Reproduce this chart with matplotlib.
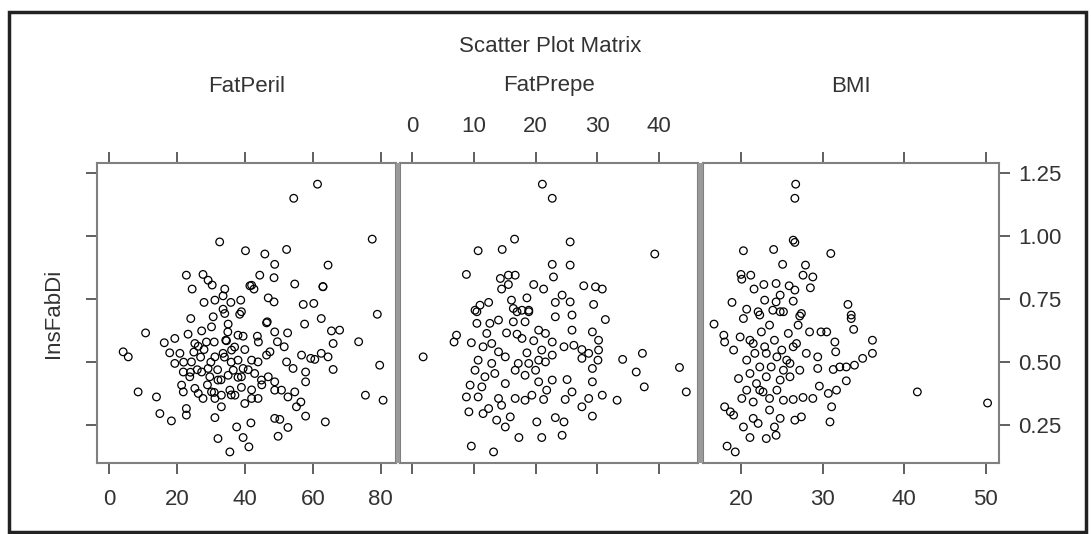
import matplotlib.pyplot as plt
from matplotlib.patches import Rectangle

# values (InsFabDi against each variable)
fatperi_x = [61.4, 54.4, 32.6, 40.2, 45.9, 52.3, 77.5, 48.8, 64.5, 22.8, 27.7, 29.2, 30.4, 44.4, 48.6,
             24.5, 34.1, 41.5, 42.7, 54.7, 63.0, 28.0, 31.2, 33.6, 35.9, 38.8, 33.6, 39.0, 46.9, 48.6,
             57.2, 60.3, 79.0, 24.1, 30.7, 34.1, 35.1, 38.5, 46.4, 57.6, 62.5, 10.8, 16.3, 19.4, 23.3,
             27.3, 30.2, 48.8, 52.6, 65.5, 67.9, 66.0, 73.5, 4.2, 5.7, 25.3, 26.3, 28.7, 34.6, 38.0,
             39.5, 43.7, 49.6, 51.6, 20.9, 17.9, 19.4, 24.3, 29.2, 31.2, 33.6, 36.1, 38.0, 39.5, 42.0,
             43.9, 46.4, 47.4, 52.3, 54.2, 56.7, 59.4, 60.6, 62.5, 64.5, 66.0, 57.9, 57.9, 79.7, 21.9,
             23.8, 27.3, 29.7, 32.1, 35.1, 36.6, 39.0, 42.9, 44.9, 46.9, 48.8, 21.4, 21.9, 25.3, 26.3,
             27.7, 30.2, 31.2, 33.1, 35.6, 37.1, 40.0, 42.0, 43.9, 48.8, 50.8, 52.7, 54.7, 56.5, 55.2,
             8.6, 14.0, 15.0, 18.4, 22.8, 22.8, 33.1, 31.2, 41.8, 37.6, 39.5, 41.2, 35.6, 32.1, 48.8,
             50.3, 52.7, 49.8, 57.9, 63.7, 75.5, 80.7, 34.4, 46.6, 42.0, 63.0, 28.0, 30.0, 32.0, 34.0,
             36.0, 38.0, 26.0, 29.0, 33.0, 31.0, 35.0, 37.0, 40.0, 27.0, 24.0, 22.0, 41.0, 44.0, 31.0,
             36.0, 39.0, 25.0, 42.0, 45.0]
fatperi_y = [1.206, 1.15, 0.977, 0.942, 0.929, 0.947, 0.988, 0.888, 0.885, 0.845, 0.848, 0.825, 0.806, 0.845, 0.835,
             0.79, 0.79, 0.803, 0.79, 0.81, 0.799, 0.737, 0.746, 0.763, 0.737, 0.746, 0.71, 0.70, 0.755, 0.739,
             0.729, 0.733, 0.69, 0.673, 0.68, 0.693, 0.651, 0.69, 0.656, 0.651, 0.673, 0.616, 0.577, 0.594, 0.611,
             0.624, 0.64, 0.62, 0.616, 0.624, 0.627, 0.574, 0.581, 0.541, 0.521, 0.574, 0.563, 0.58, 0.585, 0.607,
             0.603, 0.603, 0.581, 0.561, 0.535, 0.537, 0.495, 0.501, 0.475, 0.521, 0.535, 0.548, 0.508, 0.475, 0.508,
             0.501, 0.528, 0.541, 0.501, 0.475, 0.528, 0.515, 0.511, 0.535, 0.521, 0.471, 0.461, 0.422, 0.488, 0.461,
             0.442, 0.461, 0.442, 0.429, 0.448, 0.468, 0.442, 0.455, 0.429, 0.442, 0.422, 0.409, 0.382, 0.396, 0.376,
             0.356, 0.382, 0.356, 0.369, 0.389, 0.369, 0.336, 0.356, 0.356, 0.389, 0.389, 0.362, 0.382, 0.342, 0.323,
             0.382, 0.362, 0.296, 0.267, 0.316, 0.29, 0.323, 0.28, 0.259, 0.243, 0.201, 0.164, 0.144, 0.197, 0.277,
             0.273, 0.241, 0.206, 0.286, 0.263, 0.369, 0.349, 0.587, 0.66, 0.805, 0.80, 0.55, 0.50, 0.47, 0.52,
             0.50, 0.44, 0.47, 0.41, 0.43, 0.58, 0.62, 0.56, 0.55, 0.52, 0.46, 0.50, 0.47, 0.58, 0.38,
             0.37, 0.40, 0.54, 0.39, 0.41]

fatprepe_x = [21.1, 22.7, 16.6, 10.7, 14.6, 25.6, 39.3, 22.7, 25.6, 8.8, 14.3, 15.6, 16.7, 15.6, 14.5,
              19.7, 21.3, 22.9, 27.8, 29.7, 30.8, 24.3, 23.2, 25.6, 29.4, 18.6, 16.1, 12.4, 11.0, 10.2,
              16.4, 17.8, 18.9, 10.5, 17.0, 18.9, 23.2, 25.9, 31.3, 10.5, 12.6, 14.0, 16.4, 18.3, 7.2,
              6.8, 9.6, 12.1, 15.3, 17.0, 20.5, 21.6, 25.9, 29.2, 30.2, 22.7, 19.7, 17.8, 12.9, 11.5,
              1.8, 14.0, 15.1, 18.6, 21.0, 22.7, 24.6, 26.2, 27.5, 28.6, 30.2, 30.1, 27.5, 34.1, 37.3,
              43.3, 36.3, 29.2, 25.1, 29.2, 37.6, 44.4, 30.8, 33.2, 28.6, 27.5, 25.9, 24.8, 29.2, 23.2,
              24.6, 20.2, 24.3, 21.0, 17.3, 15.1, 15.9, 13.7, 12.4, 9.2, 11.5, 9.6, 13.2, 8.8, 10.7,
              14.0, 14.5, 16.7, 18.3, 19.4, 21.3, 22.7, 21.8, 20.5, 18.3, 16.7, 17.2, 18.9, 20.0, 10.2,
              11.8, 13.4, 15.1, 9.4, 11.3, 12.9, 10.7, 20.5, 21.6]
fatprepe_y = [1.206, 1.15, 0.988, 0.942, 0.947, 0.977, 0.929, 0.888, 0.885, 0.848, 0.832, 0.845, 0.845, 0.808, 0.79,
              0.808, 0.79, 0.838, 0.803, 0.799, 0.79, 0.766, 0.737, 0.739, 0.729, 0.755, 0.746, 0.737, 0.726, 0.706,
              0.713, 0.706, 0.706, 0.70, 0.70, 0.70, 0.68, 0.687, 0.669, 0.654, 0.654, 0.667, 0.66, 0.66, 0.607,
              0.58, 0.577, 0.614, 0.616, 0.611, 0.627, 0.614, 0.627, 0.62, 0.587, 0.58, 0.585, 0.594, 0.574, 0.561,
              0.521, 0.541, 0.521, 0.537, 0.548, 0.528, 0.561, 0.567, 0.55, 0.535, 0.548, 0.508, 0.515, 0.511, 0.535,
              0.479, 0.461, 0.475, 0.431, 0.422, 0.402, 0.382, 0.369, 0.349, 0.356, 0.323, 0.382, 0.352, 0.286, 0.28,
              0.263, 0.263, 0.21, 0.201, 0.201, 0.243, 0.283, 0.27, 0.316, 0.303, 0.296, 0.167, 0.144, 0.362, 0.362,
              0.356, 0.329, 0.356, 0.349, 0.369, 0.352, 0.429, 0.389, 0.422, 0.448, 0.468, 0.495, 0.495, 0.468, 0.468,
              0.442, 0.455, 0.415, 0.409, 0.402, 0.495, 0.508, 0.508, 0.501]

bmi_x = [26.7, 26.6, 26.4, 26.6, 20.3, 24.0, 31.0, 25.1, 27.9, 20.0, 21.2, 20.1, 27.6, 28.8, 22.8,
         24.3, 25.9, 28.5, 21.6, 26.6, 24.8, 22.9, 24.3, 26.4, 18.9, 33.1, 20.7, 22.1, 23.9, 25.2,
         27.4, 33.5, 16.7, 20.3, 22.3, 24.8, 27.2, 33.5, 33.8, 17.9, 18.0, 19.1, 19.9, 21.1, 22.5,
         23.5, 24.1, 25.8, 27.0, 28.4, 29.8, 30.5, 31.5, 31.6, 36.1, 36.1, 34.9, 33.9, 32.9, 32.1,
         31.3, 29.4, 29.4, 28.0, 32.9, 29.6, 30.7, 31.7, 31.1, 30.9, 41.6, 50.2, 28.8, 27.6, 26.4,
         25.2, 23.5, 21.5, 20.1, 18.0, 18.7, 19.1, 21.5, 22.1, 23.5, 24.8, 24.1, 26.6, 27.4, 20.3,
         21.1, 23.1, 24.3, 18.3, 19.3, 19.7, 20.7, 21.7, 22.9, 24.4, 25.6, 26.4, 27.2, 26.0, 24.8,
         23.1, 21.9, 20.7, 22.7, 24.4, 21.1, 22.3, 23.7, 25.2, 26.0, 21.5, 23.1, 25.0, 26.8, 22.3]
bmi_y = [1.206, 1.15, 0.984, 0.975, 0.942, 0.947, 0.931, 0.888, 0.885, 0.848, 0.845, 0.829, 0.845, 0.838, 0.808,
         0.812, 0.803, 0.795, 0.79, 0.786, 0.766, 0.746, 0.739, 0.742, 0.737, 0.729, 0.71, 0.70, 0.706, 0.70,
         0.693, 0.687, 0.651, 0.673, 0.687, 0.70, 0.683, 0.673, 0.63, 0.607, 0.58, 0.548, 0.60, 0.587, 0.62,
         0.647, 0.587, 0.614, 0.647, 0.62, 0.62, 0.62, 0.58, 0.541, 0.587, 0.535, 0.515, 0.488, 0.481, 0.481,
         0.471, 0.521, 0.475, 0.535, 0.426, 0.405, 0.376, 0.389, 0.323, 0.263, 0.382, 0.338, 0.356, 0.36, 0.352,
         0.349, 0.356, 0.342, 0.356, 0.323, 0.303, 0.29, 0.277, 0.257, 0.31, 0.277, 0.243, 0.27, 0.283, 0.243,
         0.201, 0.197, 0.21, 0.167, 0.144, 0.435, 0.508, 0.535, 0.561, 0.521, 0.508, 0.561, 0.468, 0.442, 0.429,
         0.442, 0.415, 0.389, 0.382, 0.389, 0.455, 0.481, 0.481, 0.468, 0.495, 0.574, 0.535, 0.548, 0.574, 0.389]

y_ticks = [0.25, 0.50, 0.75, 1.00, 1.25]
y_ticklabels = ['0.25', '0.50', '0.75', '1.00', '1.25']

panels = [
    ('FatPeril', fatperi_x, fatperi_y, (-3.5, 84.5), [0, 20, 40, 60, 80], 'bottom'),
    ('FatPrepe', fatprepe_x, fatprepe_y, (-1.95, 46.3), [0, 10, 20, 30, 40], 'top'),
    ('BMI', bmi_x, bmi_y, (15.35, 51.6), [20, 30, 40, 50], 'bottom'),
]

W, H = 1091, 534
plt.rcParams['font.family'] = ['Liberation Sans', 'DejaVu Sans']
fig = plt.figure(figsize=(W / 100, H / 100), dpi=100)

# panel extents in pixels (left, right)
boxes = [(97, 396), (400, 698), (703, 999)]
top_px, bot_px = 163, 463
txt = '#333333'
frame = '#808080'
fs = 16

# grey bars between the panels
for x0, x1 in [(396, 400), (698, 703)]:
    fig.patches.append(Rectangle((x0 / W, 1 - bot_px / H), (x1 - x0) / W, (bot_px - top_px) / H,
                                 transform=fig.transFigure, facecolor='#9a9a9a', edgecolor='none'))

axes = []
for i, (name, xs, ys, xlim, ticks, side) in enumerate(panels):
    l, r = boxes[i]
    ax = fig.add_axes([l / W, 1 - bot_px / H, (r - l) / W, (bot_px - top_px) / H])
    ax.scatter(xs, ys, s=30, facecolors='none', edgecolors='black', linewidths=0.9)
    ax.set_xlim(*xlim)
    ax.set_ylim(0.10, 1.29)
    ax.set_xticks(ticks)
    ax.set_yticks(y_ticks)
    for sp in ax.spines.values():
        sp.set_color(frame)
        sp.set_linewidth(1.5)
    ax.tick_params(axis='x', direction='out', length=8, width=1.2, color='#444444',
                   top=True, bottom=True, labeltop=(side == 'top'), labelbottom=(side == 'bottom'),
                   labelsize=fs, labelcolor=txt, pad=11)
    ax.tick_params(axis='y', direction='out', length=8, width=1.2, color='#444444',
                   left=(i == 0), right=(i == 2), labelleft=False, labelright=(i == 2),
                   labelsize=fs, labelcolor=txt, pad=6)
    if i == 2:
        ax.set_yticklabels(y_ticklabels)
    # strip label above each panel
    fig.text((l + r) / 2 / W, 1 - 86 / H, name, ha='center', va='center', fontsize=fs, color=txt)
    axes.append(ax)

axes[0].set_ylabel('InsFabDi', fontsize=fs, color=txt, labelpad=16)
fig.text(550 / W, 1 - 47 / H, 'Scatter Plot Matrix', ha='center', va='center', fontsize=fs, color=txt)

# outer frame
fig.patches.append(Rectangle((9 / W, 2 / H), 1077 / W, 520 / H, transform=fig.transFigure,
                             fill=False, edgecolor='#222222', linewidth=2.5))

fig.savefig('out.png', dpi=100)
